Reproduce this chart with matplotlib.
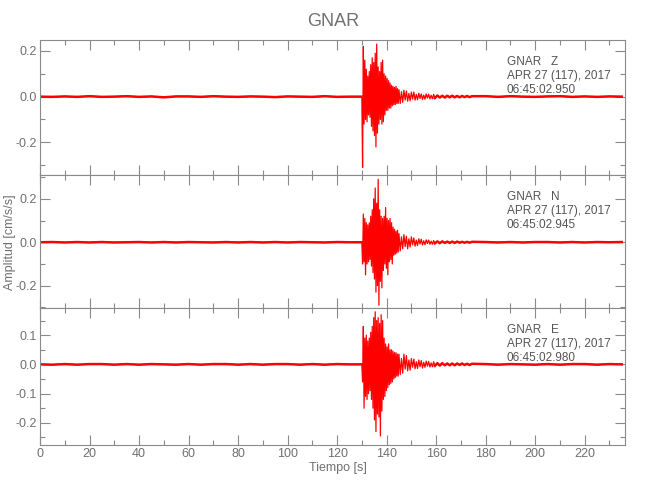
import numpy as np
import matplotlib
matplotlib.use("Agg")
import matplotlib.pyplot as plt
from matplotlib.ticker import MultipleLocator, FormatStrFormatter

plt.rcParams['font.family'] = ['Liberation Sans', 'DejaVu Sans']
plt.rcParams['axes.unicode_minus'] = False

# time axis pieces (s)
pre_t = np.arange(0.0, 126.0, 5.0)          # pre-event noise samples
fast_t = np.arange(130.0, 145.01, 0.3)      # strong motion peaks
mid_t = np.arange(145.5, 159.51, 0.5)       # coda
tail_t = np.arange(160.5, 174.51, 1.0)      # late coda
post_t = np.arange(180.0, 236.0, 5.0)       # post-event noise

# ---- component Z ----
z_pre = [0.0, -0.001, 0.001, -0.001, 0.002, -0.001, 0.0, 0.002, -0.001, 0.001, -0.003, 0.001, 0.001,
         -0.001, 0.002, 0.0, -0.001, 0.001, 0.0, -0.002, 0.001, 0.0, -0.001, 0.002, -0.001, 0.0]
z_fast = [0.0, -0.31, 0.22, -0.12, 0.16, -0.10, 0.12, -0.11, 0.09, -0.08, 0.11, -0.09, 0.14, -0.13,
          0.17, -0.15, 0.15, -0.17, 0.19, -0.22, 0.23, -0.16, 0.13, -0.12, 0.11, -0.10, 0.15, -0.12,
          0.16, -0.11, 0.10, -0.08, 0.09, -0.06, 0.08, -0.06, 0.07, -0.05, 0.06, -0.05, 0.05, -0.04,
          0.045, -0.035, 0.04, -0.035, 0.045, -0.03, 0.035, -0.03, 0.03]
z_mid = [-0.03, 0.022, -0.025, 0.028, -0.015, 0.025, -0.02, 0.014, -0.018, 0.02, -0.011, 0.02, -0.015,
         0.01, -0.014, 0.015, -0.008, 0.012, -0.012, 0.007, -0.011, 0.012, -0.006, 0.011, -0.01, 0.006,
         -0.009, 0.01, -0.006]
z_tail = [0.005, -0.004, 0.004, -0.004, 0.004, -0.003, 0.004, -0.003, 0.003, -0.003, 0.003, -0.002,
          0.003, -0.002, 0.002]
z_post = [0.002, -0.001, 0.002, 0.0, -0.001, 0.001, 0.002, -0.001, 0.001, -0.001, 0.001, 0.0]

# ---- component N ----
n_pre = [0.0, 0.001, -0.001, 0.001, -0.001, 0.001, -0.001, 0.0, 0.001, -0.001, 0.001, -0.001, 0.001,
         0.0, -0.001, 0.001, -0.001, 0.001, -0.001, 0.001, -0.001, 0.001, 0.0, -0.001, 0.001, 0.0]
n_fast = [0.0, -0.10, 0.13, -0.09, 0.11, -0.15, 0.09, -0.10, 0.08, -0.09, 0.09, -0.08, 0.12, -0.11,
          0.15, -0.14, 0.20, -0.17, 0.25, -0.23, 0.18, -0.20, 0.29, -0.29, 0.15, -0.18, 0.12, -0.21,
          0.11, -0.13, 0.12, -0.10, 0.16, -0.12, 0.11, -0.15, 0.10, -0.09, 0.11, -0.08, 0.09, -0.10,
          0.07, -0.06, 0.06, -0.055, 0.05, -0.05, 0.055, -0.045, 0.04]
n_mid = [-0.04, 0.025, -0.03, 0.035, -0.02, 0.028, -0.03, 0.016, -0.022, 0.025, -0.012, 0.02, -0.018,
         0.01, -0.015, 0.016, -0.008, 0.014, -0.012, 0.007, -0.011, 0.011, -0.006, 0.01, -0.009, 0.005,
         -0.009, 0.008, -0.005]
n_tail = [0.004, -0.004, 0.004, -0.003, 0.003, -0.003, 0.003, -0.003, 0.003, -0.002, 0.002, -0.002,
          0.002, -0.002, 0.002]
n_post = [0.001, -0.001, 0.001, -0.001, 0.001, 0.001, -0.001, 0.001, -0.001, 0.001, 0.0, 0.001]

# ---- component E ----
e_pre = [0.0, -0.001, 0.001, -0.001, 0.001, 0.001, -0.001, 0.001, -0.001, 0.001, 0.0, -0.001, 0.001,
         -0.001, 0.001, 0.001, -0.001, 0.001, -0.001, 0.001, 0.001, -0.001, 0.001, -0.001, 0.001, 0.0]
e_fast = [0.0, -0.06, 0.13, -0.15, 0.09, -0.11, 0.10, -0.12, 0.08, -0.10, 0.09, -0.09, 0.11, -0.12,
          0.13, -0.15, 0.16, -0.19, 0.18, -0.23, 0.15, -0.17, 0.16, -0.18, 0.14, -0.245, 0.17, -0.16,
          0.15, -0.12, 0.09, -0.11, 0.07, -0.09, 0.06, -0.08, 0.07, -0.07, 0.05, -0.065, 0.05, -0.06,
          0.045, -0.05, 0.04, -0.045, 0.04, -0.04, 0.035, -0.04, 0.035]
e_mid = [-0.035, 0.02, -0.03, 0.035, -0.016, 0.03, -0.022, 0.015, -0.02, 0.02, -0.01, 0.018, -0.015,
         0.009, -0.014, 0.015, -0.008, 0.013, -0.012, 0.007, -0.01, 0.011, -0.006, 0.01, -0.009, 0.005,
         -0.008, 0.009, -0.005]
e_tail = [0.004, -0.004, 0.004, -0.003, 0.003, -0.003, 0.003, -0.003, 0.003, -0.002, 0.003, -0.002,
          0.002, -0.002, 0.002]
e_post = [0.001, -0.001, 0.001, 0.0, -0.001, 0.001, -0.001, 0.001, 0.001, -0.001, 0.001, 0.0]

components = ['Z', 'N', 'E']
start_times = ['06:45:02.950', '06:45:02.945', '06:45:02.980']
ylims = [(-0.343, 0.248), (-0.303, 0.31), (-0.276, 0.193)]
major_steps = [0.2, 0.2, 0.1]
traces = [
    (z_pre, z_fast, z_mid, z_tail, z_post),
    (n_pre, n_fast, n_mid, n_tail, n_post),
    (e_pre, e_fast, e_mid, e_tail, e_post),
]

axis_gray = '#8a8a8a'
text_gray = '#707070'

fig = plt.figure(figsize=(6.5, 5), dpi=100)
left, right = 40 / 650, 625 / 650
edges = [40, 175, 308, 445]  # panel borders in pixels from the top

t_all = np.concatenate([pre_t, fast_t, mid_t, tail_t, post_t])
quiet = (t_all <= 130.0) | (t_all >= 159.5)

for i, comp in enumerate(components):
    top_px, bot_px = edges[i], edges[i + 1]
    ax = fig.add_axes([left, 1 - bot_px / 500, right - left, (bot_px - top_px) / 500])
    amp = np.concatenate([np.asarray(p, dtype=float) for p in traces[i]])
    ax.plot(t_all, amp, color='red', lw=0.9)
    # noise before / after the event shows as a thicker fuzzy band
    ax.plot(t_all, np.where(quiet, amp, np.nan), color='red', lw=1.8)

    ax.set_xlim(0, 236.3)
    ax.set_ylim(*ylims[i])
    ax.xaxis.set_major_locator(MultipleLocator(20))
    ax.xaxis.set_minor_locator(MultipleLocator(10))
    ax.yaxis.set_major_locator(MultipleLocator(major_steps[i]))
    ax.yaxis.set_minor_locator(MultipleLocator(major_steps[i] / 2))
    ax.yaxis.set_major_formatter(FormatStrFormatter('%.1f'))
    ax.tick_params(which='both', direction='in', top=True, right=True,
                   color=axis_gray, labelcolor=text_gray, labelsize=9, width=0.8, pad=2.5)
    ax.tick_params(which='major', length=7)
    ax.tick_params(which='minor', length=3.5)
    if i < 2:
        ax.tick_params(labelbottom=False)
    for sp in ax.spines.values():
        sp.set_color(axis_gray)
        sp.set_linewidth(0.8)

    lines = ['GNAR   ' + comp, 'APR 27 (117), 2017', start_times[i]]
    for k, line in enumerate(lines):
        ax.annotate(line, xy=(0.798, 1), xycoords='axes fraction',
                    xytext=(0, -(15.6 + 10.3 * k)), textcoords='offset points',
                    ha='left', va='center', fontsize=8.5, color='#555555')

fig.text(333 / 650, 1 - 22 / 500, 'GNAR', ha='center', va='center', fontsize=13, color=text_gray)
fig.text(338 / 650, 1 - 468 / 500, 'Tiempo [s]', ha='center', va='center', fontsize=9, color=text_gray)
fig.text(10 / 650, 1 - 242 / 500, 'Amplitud [cm/s/s]', ha='center', va='center', rotation=90,
         fontsize=9, color=text_gray)

fig.savefig('out.png', dpi=100, facecolor='white')
